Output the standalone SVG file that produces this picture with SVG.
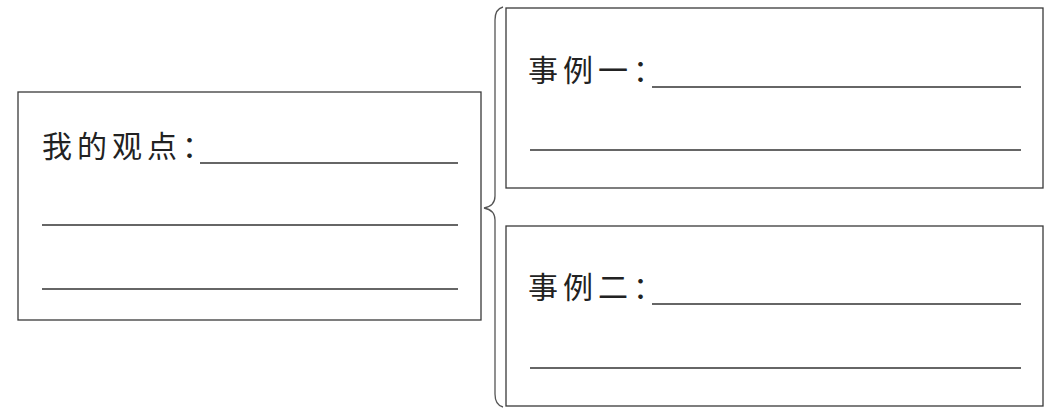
<svg xmlns="http://www.w3.org/2000/svg" width="1060" height="411" viewBox="0 0 1060 411">
<style>
.box{fill:none;stroke:#3a3a3a;stroke-width:1.3}
.ln{stroke:#333;stroke-width:1.3}
.t{font-family:"Noto Sans CJK SC","Noto Sans CJK JP",sans-serif;font-size:30px;fill:#222;letter-spacing:5px}
.brace{fill:none;stroke:#555;stroke-width:1.3}
</style>
<rect width="1060" height="411" fill="#ffffff"/>
<g id="viewpoint">
<rect class="box" x="18" y="92" width="463" height="228"/>
<text class="t" x="42" y="157">我的观点：</text>
<line class="ln" x1="200" y1="163" x2="458" y2="163"/>
<line class="ln" x1="42" y1="225" x2="458" y2="225"/>
<line class="ln" x1="42" y1="289" x2="458" y2="289"/>
</g>
<g id="connectors">
<path class="brace" d="M503,7 Q495,9 495,20 L495,196 Q495,206 484,208 Q495,210 495,220 L495,394 Q495,405 503,407"/>
</g>
<g id="example1">
<rect class="box" x="506" y="8" width="537" height="180"/>
<text class="t" x="528" y="81">事例一：</text>
<line class="ln" x1="652" y1="87" x2="1021" y2="87"/>
<line class="ln" x1="530" y1="150" x2="1021" y2="150"/>
</g>
<g id="example2">
<rect class="box" x="506" y="226" width="537" height="180"/>
<text class="t" x="528" y="298">事例二：</text>
<line class="ln" x1="652" y1="304" x2="1021" y2="304"/>
<line class="ln" x1="530" y1="368" x2="1021" y2="368"/>
</g>
</svg>
